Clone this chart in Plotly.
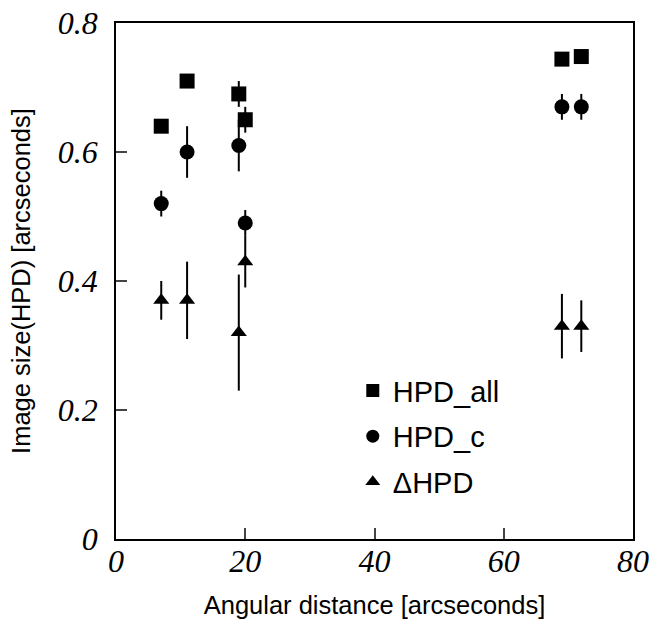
import plotly.graph_objects as go

# Data
x_all = [7, 11, 19, 20, 69, 72]
y_all = [0.64, 0.71, 0.69, 0.65, 0.744, 0.748]
e_all = [0.0, 0.0, 0.02, 0.02, 0.0, 0.0]

x_c = [7, 11, 19, 20, 69, 72]
y_c = [0.52, 0.60, 0.61, 0.49, 0.67, 0.67]
e_c = [0.02, 0.04, 0.04, 0.02, 0.02, 0.02]

x_d = [7, 11, 19, 20, 69, 72]
y_d = [0.37, 0.37, 0.32, 0.43, 0.33, 0.33]
e_d = [0.03, 0.06, 0.09, 0.04, 0.05, 0.04]

series = [
    ("HPD_all", x_all, y_all, e_all, "square", 15),
    ("HPD_c", x_c, y_c, e_c, "circle", 15),
    ("\u0394HPD", x_d, y_d, e_d, "triangle-up", 14),
]

fig = go.Figure()
for i, (name, xs, ys, es, sym, sz) in enumerate(series):
    fig.add_trace(go.Scatter(
        x=xs, y=ys, mode="markers", name=name, showlegend=False,
        marker=dict(symbol=sym, size=sz, color="black", line=dict(width=0)),
        error_y=dict(type="data", array=es, visible=True, width=0, thickness=2, color="black"),
    ))
    # legend entry
    fig.add_trace(go.Scatter(
        x=[None], y=[None], mode="markers", name=name, legendgroup=f"g{i}",
        marker=dict(symbol=sym, size=13, color="black", line=dict(width=0)),
    ))

tickfont = dict(family="Liberation Serif", size=32, style="italic", color="black")
titlefont = dict(family="Liberation Sans", size=25.5, color="black")

fig.update_xaxes(
    range=[0, 80], tickvals=[0, 20, 40, 60, 80], ticks="inside", ticklen=11,
    tickwidth=1.5, tickcolor="#444", showline=True, linecolor="black", linewidth=1.5,
    mirror=True, showgrid=False, zeroline=False, tickfont=tickfont, automargin=False,
    title=dict(text="Angular distance [arcseconds]", font=titlefont, standoff=18),
    ticklabelstandoff=-7,
)
fig.update_yaxes(
    range=[0, 0.8], tickvals=[0, 0.2, 0.4, 0.6, 0.8], ticktext=["0", "0.2", "0.4", "0.6", "0.8"],
    ticks="inside", ticklen=11, tickwidth=1.5, tickcolor="#444", showline=True,
    linecolor="black", linewidth=1.5, mirror=True, showgrid=False, zeroline=False,
    tickfont=tickfont, ticklabelstandoff=10, automargin=False,
    title=dict(text="Image size(HPD) [arcseconds]", font=titlefont, standoff=20),
)

fig.update_layout(
    width=654, height=620,
    margin=dict(l=116, r=21, t=23, b=81),
    paper_bgcolor="white", plot_bgcolor="white",
    legend=dict(x=0.458, y=0.337, xanchor="left", yanchor="top",
                font=dict(family="Liberation Sans", size=29, color="black"),
                bgcolor="rgba(0,0,0,0)", traceorder="grouped", tracegroupgap=5),
)

fig.write_html("out.html")
